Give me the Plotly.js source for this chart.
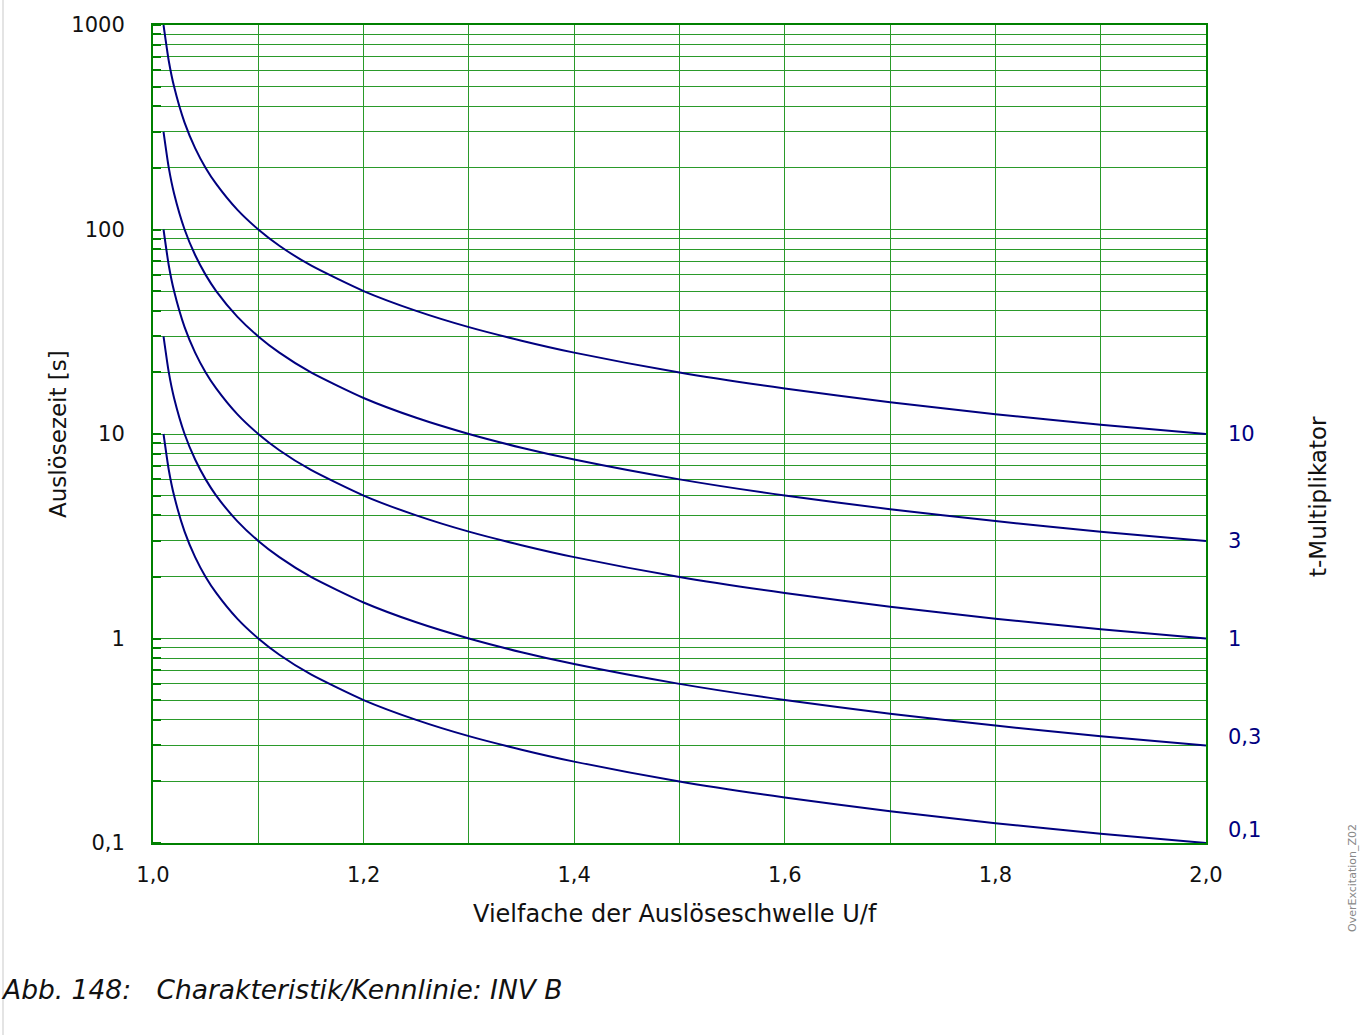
<!DOCTYPE html>
<html>
<head>
<meta charset="utf-8">
<script src="https://cdn.plot.ly/plotly-3.0.1.min.js"></script>
<style>
html,body{margin:0;padding:0;background:#fff;}
#chart{width:1363px;height:1035px;}
</style>
</head>
<body>
<div id="chart"></div>
<script>
// Multiples of U/f threshold (x)
const xVals = [1.01, 1.015, 1.02, 1.03, 1.04, 1.05, 1.06, 1.08, 1.1, 1.12, 1.15, 1.2, 1.25, 1.3, 1.35, 1.4, 1.5, 1.6, 1.7, 1.8, 1.9, 2.0];
// Trip times [s] per t-multiplier
const tMul10  = [1000, 667, 500, 333, 250, 200, 167, 125, 100, 83.3, 66.7, 50, 40, 33.3, 28.6, 25, 20, 16.7, 14.3, 12.5, 11.1, 10];
const tMul3   = [300, 200, 150, 100, 75, 60, 50, 37.5, 30, 25, 20, 15, 12, 10, 8.57, 7.5, 6, 5, 4.29, 3.75, 3.33, 3];
const tMul1   = [100, 66.7, 50, 33.3, 25, 20, 16.7, 12.5, 10, 8.33, 6.67, 5, 4, 3.33, 2.86, 2.5, 2, 1.67, 1.43, 1.25, 1.11, 1];
const tMul03  = [30, 20, 15, 10, 7.5, 6, 5, 3.75, 3, 2.5, 2, 1.5, 1.2, 1, 0.857, 0.75, 0.6, 0.5, 0.429, 0.375, 0.333, 0.3];
const tMul01  = [10, 6.67, 5, 3.33, 2.5, 2, 1.67, 1.25, 1, 0.833, 0.667, 0.5, 0.4, 0.333, 0.286, 0.25, 0.2, 0.167, 0.143, 0.125, 0.111, 0.1];
const seriesNames = ["10", "3", "1", "0,3", "0,1"];
const seriesEnd = [10, 3, 1, 0.3, 0.1];
const xTickVals = [1.0, 1.1, 1.2, 1.3, 1.4, 1.5, 1.6, 1.7, 1.8, 1.9, 2.0];
const xTickText = ["1,0", "", "1,2", "", "1,4", "", "1,6", "", "1,8", "", "2,0"];
const yTickVals = [0.1, 1, 10, 100, 1000];
const yTickText = ["0,1", "1", "10", "100", "1000"];

const allSeries = [tMul10, tMul3, tMul1, tMul03, tMul01];
const lineColor = "#00007f";
const traces = allSeries.map((ys, i) => ({
  x: xVals, y: ys, type: "scatter", mode: "lines", name: seriesNames[i],
  line: {color: lineColor, width: 2, shape: "spline", smoothing: 0.6},
  showlegend: false, hoverinfo: "skip"
}));

const font = "DejaVu Sans, sans-serif";
const green = "#008000";
const gridGreen = "#2a9a2a";
const yShifts = [0, 0, 0, 8, 13];
const endAnn = seriesEnd.map((v, i) => ({
  x: 2.0, y: Math.log10(v), xref: "x", yref: "y", text: seriesNames[i],
  showarrow: false, xanchor: "left", yanchor: "middle", xshift: 20, yshift: yShifts[i],
  font: {family: font, size: 21, color: lineColor}
}));

const layout = {
  width: 1363, height: 1035,
  margin: {l: 153, r: 157, t: 25, b: 192},
  paper_bgcolor: "#fff", plot_bgcolor: "#fff",
  separators: ",.",
  xaxis: {
    range: [1, 2], tickvals: xTickVals, ticktext: xTickText,
    showgrid: true, gridcolor: gridGreen, gridwidth: 1,
    zeroline: false, showline: true, linecolor: green, linewidth: 2, mirror: true,
    ticks: "", ticklabelstandoff: 12,
    tickfont: {family: font, size: 21, color: "#111"}
  },
  yaxis: {
    type: "log", range: [-1, 3], tickvals: yTickVals, ticktext: yTickText,
    showgrid: true, gridcolor: gridGreen, gridwidth: 1,
    zeroline: false, showline: true, linecolor: green, linewidth: 2, mirror: true,
    ticks: "", ticklabelstandoff: 22,
    tickfont: {family: font, size: 21, color: "#111"},
    minor: {dtick: "D1", showgrid: true, gridcolor: gridGreen, gridwidth: 1,
            ticks: "inside", ticklen: 8, tickcolor: green, tickwidth: 2}
  },
  shapes: [
    {type: "line", xref: "paper", yref: "paper", x0: (3 - 153) / 1053, x1: (3 - 153) / 1053,
     y0: (1035 - 843) / 818 * -1, y1: 1 + 25 / 818, line: {color: "#e4e4e4", width: 2}}
  ],
  annotations: endAnn.concat([
    {xref: "paper", yref: "paper", x: (58 - 153) / 1053, y: 0.5, text: "Auslösezeit [s]",
     textangle: -90, showarrow: false, xanchor: "center", yanchor: "middle",
     font: {family: font, size: 23, color: "#111"}},
    {xref: "paper", yref: "paper", x: (1318 - 153) / 1053, y: (843 - 497) / 818, text: "t-Multiplikator",
     textangle: -90, showarrow: false, xanchor: "center", yanchor: "middle",
     font: {family: font, size: 23, color: "#111"}},
    {xref: "paper", yref: "paper", x: (675 - 153) / 1053, y: -(914 - 843) / 818, text: "Vielfache der Auslöseschwelle U/f",
     showarrow: false, xanchor: "center", yanchor: "middle",
     font: {family: font, size: 24, color: "#111"}},
    {xref: "paper", yref: "paper", x: (-1 - 153) / 1053, y: -(989 - 843) / 818,
     text: "<i>Abb. 148:   Charakteristik/Kennlinie: INV B</i>",
     showarrow: false, xanchor: "left", yanchor: "middle",
     font: {family: font, size: 26.5, color: "#111"}},
    {xref: "paper", yref: "paper", x: (1352 - 153) / 1053, y: -(878 - 843) / 818, text: "OverExcitation_Z02",
     textangle: -90, showarrow: false, xanchor: "center", yanchor: "middle",
     font: {family: font, size: 11, color: "#888"}}
  ])
};

Plotly.newPlot("chart", traces, layout, {displayModeBar: false, staticPlot: true});
</script>
</body>
</html>
